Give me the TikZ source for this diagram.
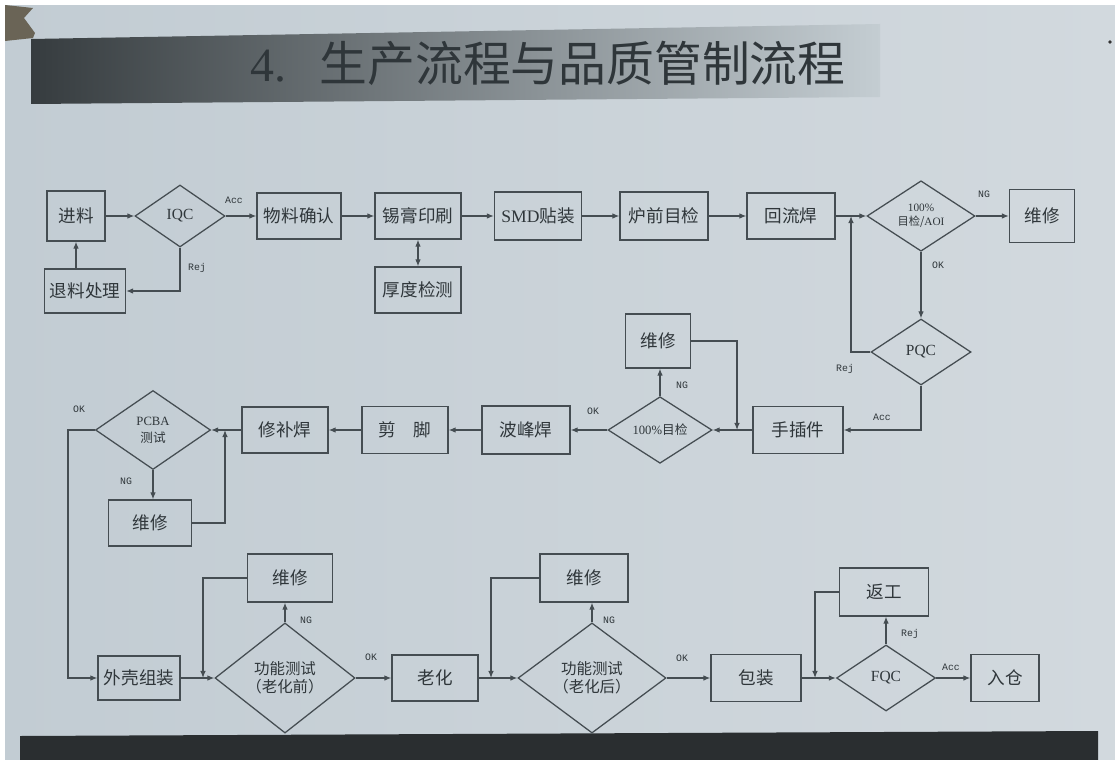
\documentclass[tikz,border=0pt]{standalone}
\usepackage{fontspec}
\setmainfont{Liberation Serif}
\newfontfamily\cjk{Noto Sans CJK SC}
\newfontfamily\labfont{Liberation Mono}
\usetikzlibrary{shapes.geometric,arrows.meta}
\definecolor{paperL}{HTML}{C2CCD3}
\definecolor{paperR}{HTML}{D2D9DE}
\definecolor{ink}{HTML}{2F363A}
\definecolor{wire}{HTML}{454D52}
\definecolor{tdark}{HTML}{363C3F}
\definecolor{tlight}{HTML}{C4CDD2}
\definecolor{barc}{HTML}{2A2E30}
\definecolor{corner}{HTML}{6A6456}
\tikzset{
  box/.style={draw=wire, line width=0.9pt, text=ink, inner sep=1pt,
    font=\cjk\fontsize{12.5}{14}\selectfont},
  bx/.style 2 args={box, minimum width=#1*0.025cm, minimum height=#2*0.025cm},
  dia/.style={diamond, draw=wire, line width=0.9pt, text=ink, inner sep=0pt,
    align=center, font=\cjk\fontsize{11}{13}\selectfont},
  dm/.style 2 args={dia, minimum width=#1*0.025cm, minimum height=#2*0.025cm},
  arr/.style={draw=wire, line width=0.9pt, -{Latex[length=5pt,width=4pt]}},
  biarr/.style={draw=wire, line width=0.9pt, {Latex[length=5pt,width=4pt]}-{Latex[length=5pt,width=4pt]}},
  lbl/.style={text=ink, font=\labfont\fontsize{7}{8}\selectfont, inner sep=1pt},
}
\begin{document}
\begin{tikzpicture}[x=0.025cm,y=-0.025cm]
\useasboundingbox (0,0) rectangle (1115,760);
% paper
\shade[left color=paperL, right color=paperR] (0,0) rectangle (1115,760);
\fill[white] (0,0) rectangle (1115,5);
\fill[white] (0,0) rectangle (5,760);
\fill[corner] (5,5) -- (33,8) -- (24,18) -- (35,33) -- (33,38) -- (5,41) -- cycle;
\fill[black!80] (1110,42) circle (1.8);
% title bar
\shade[left color=tdark, right color=tlight] (31,39) -- (880,24) -- (880,97) -- (31,104) -- cycle;
\node[text=ink, font=\fontsize{34}{34}\selectfont, anchor=west, inner sep=0pt] (title) at (250,63)
  {4.\hspace{0.7em}{\cjk 生产流程与品质管制流程}};
% bottom bar
\fill[barc] (20,736) -- (1098,731) -- (1098,760) -- (20,760) -- cycle;

% ---------- row 1 ----------
\node[bx={58}{50}] (jl) at (76,216) {进料};
\node[dm={90}{62}] (iqc) at (180,216) {\rmfamily IQC};
\node[bx={81}{44}] (tl) at (85,291) {退料处理};
\node[bx={84}{46}] (wl) at (299,216) {物料确认};
\node[bx={86}{46}] (xg) at (418,216) {锡膏印刷};
\node[bx={86}{46}] (hd) at (418,290) {厚度检测};
\node[bx={87}{48}] (smd) at (538,216) {{\rmfamily SMD}贴装};
\node[bx={88}{48}] (lq) at (664,216) {炉前目检};
\node[bx={88}{46}] (hl) at (791,216) {回流焊};
\node[dm={108}{62}, font=\cjk\fontsize{8}{10}\selectfont] (aoi) at (921,216) {{\rmfamily 100\%}\\目检/{\rmfamily AOI}};
\node[bx={65}{53}] (wx1) at (1042,216) {维修};
\node[dm={100}{66}] (pqc) at (921,352) {\rmfamily PQC};

% ---------- row 2 ----------
\node[bx={90}{47}] (sc) at (798,430) {手插件};
\node[dm={104}{64}, font=\cjk\fontsize{9}{11}\selectfont] (mu) at (660,430) {{\rmfamily 100\%}目检};
\node[bx={65}{54}] (wx2) at (658,341) {维修};
\node[bx={88}{48}] (bf) at (526,430) {波峰焊};
\node[bx={86}{47}] (jj) at (405,430) {剪\hspace{1em}脚};
\node[bx={86}{46}] (xb) at (285,430) {修补焊};
\node[dm={115}{79}, font=\cjk\fontsize{9}{12}\selectfont] (pcba) at (153,430) {{\rmfamily PCBA}\\测试};
\node[bx={83}{46}] (wx3) at (150,523) {维修};

% ---------- row 3 ----------
\node[bx={82}{44}] (wk) at (139,678) {外壳组装};
\node[bx={85}{48}] (wx4) at (290,578) {维修};
\node[dm={140}{80}] (gn1) at (285,678) {功能测试\\（老化前）};
\node[bx={86}{46}] (lh) at (435,678) {老化};
\node[bx={88}{48}] (wx5) at (584,578) {维修};
\node[dm={148}{84}] (gn2) at (592,678) {功能测试\\（老化后）};
\node[bx={90}{47}] (bz) at (756,678) {包装};
\node[bx={89}{48}] (fg) at (884,592) {返工};
\node[dm={99}{66}] (fqc) at (886,678) {\rmfamily FQC};
\node[bx={68}{47}] (rc) at (1005,678) {入仓};

% junction coordinates
\coordinate (j1) at (851,216);
\coordinate (j2) at (737,430);
\coordinate (j3) at (225,430);
\coordinate (k1) at (68,560);
\coordinate (j4) at (203,678);
\coordinate (j5) at (491,678);
\coordinate (j6) at (815,678);

% ---------- connectors row 1 ----------
\draw[arr] (jl.east) -- (iqc.west);
\draw[arr] (iqc.east) -- (wl.west);
\draw[arr] (iqc.south) |- (tl.east);
\draw[arr] (jl.south |- tl.north) -- (jl.south);
\draw[arr] (wl.east) -- (xg.west);
\draw[biarr] (xg.south) -- (hd.north);
\draw[arr] (xg.east) -- (smd.west);
\draw[arr] (smd.east) -- (lq.west);
\draw[arr] (lq.east) -- (hl.west);
\draw[arr] (hl.east) -- (aoi.west);
\draw[arr] (aoi.east) -- (wx1.west);
\draw[arr] (aoi.south) -- (pqc.north);
\draw[arr] (pqc.west) -| (j1);
\draw[arr] (pqc.south) |- (sc.east);

% ---------- connectors row 2 ----------
\draw[arr] (sc.west) -- (mu.east);
\draw[arr] (wx2.east) -| (j2);
\draw[arr] (mu.north) -- (mu.north |- wx2.south);
\draw[arr] (mu.west) -- (bf.east);
\draw[arr] (bf.west) -- (jj.east);
\draw[arr] (jj.west) -- (xb.east);
\draw[arr] (xb.west) -- (pcba.east);
\draw[arr] (wx3.east) -| (j3);
\draw[arr] (pcba.south) -- (pcba.south |- wx3.north);
\draw[arr] (pcba.west) -| (k1) |- (wk.west);

% ---------- connectors row 3 ----------
\draw[arr] (wk.east) -- (gn1.west);
\draw[arr] (wx4.west) -| (j4);
\draw[arr] (gn1.north) -- (gn1.north |- wx4.south);
\draw[arr] (gn1.east) -- (lh.west);
\draw[arr] (lh.east) -- (gn2.west);
\draw[arr] (wx5.west) -| (j5);
\draw[arr] (gn2.north) -- (gn2.north |- wx5.south);
\draw[arr] (gn2.east) -- (bz.west);
\draw[arr] (bz.east) -- (fqc.west);
\draw[arr] (fg.west) -| (j6);
\draw[arr] (fqc.north) -- (fqc.north |- fg.south);
\draw[arr] (fqc.east) -- (rc.west);

% ---------- labels ----------
\node[lbl] (l1) at (234,200) {Acc};
\node[lbl] (l2) at (197,268) {Rej};
\node[lbl] (l3) at (984,194) {NG};
\node[lbl] (l4) at (938,265) {OK};
\node[lbl] (l5) at (845,369) {Rej};
\node[lbl] (l6) at (882,417) {Acc};
\node[lbl] (l7) at (682,385) {NG};
\node[lbl] (l8) at (593,411) {OK};
\node[lbl] (l9) at (79,409) {OK};
\node[lbl] (l10) at (126,481) {NG};
\node[lbl] (l11) at (306,620) {NG};
\node[lbl] (l12) at (371,657) {OK};
\node[lbl] (l13) at (609,620) {NG};
\node[lbl] (l14) at (682,658) {OK};
\node[lbl] (l15) at (910,634) {Rej};
\node[lbl] (l16) at (951,667) {Acc};
\end{tikzpicture}
\end{document}
